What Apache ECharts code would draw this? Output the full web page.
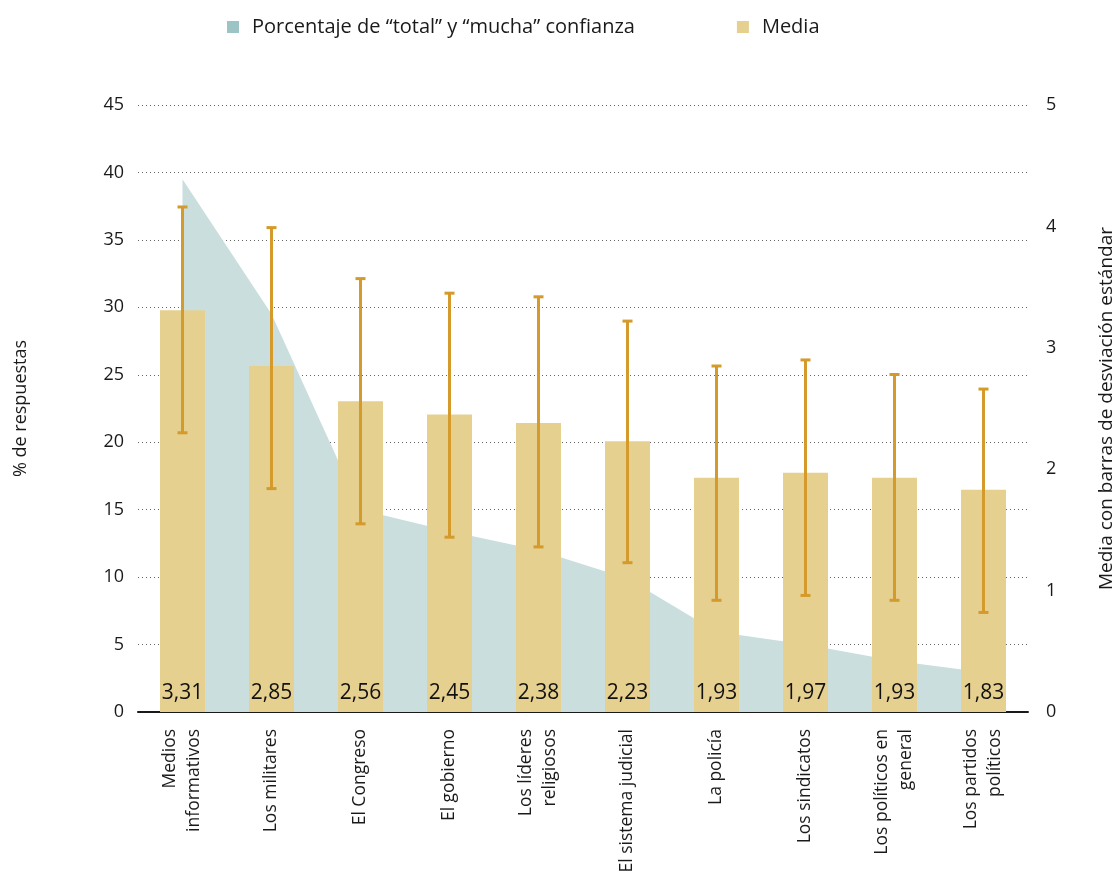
<!DOCTYPE html>
<html>
<head>
<meta charset="utf-8">
<script src="https://cdn.jsdelivr.net/npm/echarts@6/dist/echarts.min.js"></script>
<style>
    html, body { margin: 0; padding: 0; background: #fff; }
    #chart { width: 1116px; height: 876px; }
</style>
</head>
<body>
<div id="chart"></div>
<script>
// categorías (eje X)
const categories = [
    'Medios\ninformativos', 'Los militares', 'El Congreso', 'El gobierno',
    'Los líderes\nreligiosos', 'El sistema judicial', 'La policía',
    'Los sindicatos', 'Los políticos en\ngeneral', 'Los partidos\npolíticos'
]
// % de "total" y "mucha" confianza (eje izquierdo)
const pctConfianza = [39.5, 29.5, 15.0, 13.4, 12.0, 9.9, 5.95, 5.0, 3.8, 2.95]
// media (eje derecho)
const media = [3.31, 2.85, 2.56, 2.45, 2.38, 2.23, 1.93, 1.97, 1.93, 1.83]
// barras de desviación estándar: extremos
const desvBajo = [2.30, 1.84, 1.55, 1.44, 1.36, 1.23, 0.92, 0.96, 0.92, 0.82]
const desvAlto = [4.16, 3.99, 3.57, 3.45, 3.42, 3.22, 2.85, 2.90, 2.78, 2.66]

const leftTicks = { min: 0, max: 45, interval: 5 }
const rightTicks = { min: 0, max: 5, interval: 1 }

const font = 'Open Sans'
const chart = echarts.init(document.getElementById('chart'))

const option = {
    backgroundColor: '#fff',
    animation: false,
    textStyle: { fontFamily: font },
    legend: {
        top: 12,
        left: 222,
        itemGap: 102,
        itemWidth: 12,
        itemHeight: 12,
        icon: 'rect',
        textStyle: { fontFamily: font, fontSize: 20, color: '#1a1a1a', padding: [0, 0, 0, 8] },
        data: [
            { name: 'Porcentaje de “total” y “mucha” confianza', itemStyle: { color: '#9dc4c4' } },
            { name: 'Media', itemStyle: { color: '#e5d090' } }
        ]
    },
    grid: { left: 138, right: 88, top: 105, bottom: 164, outerBoundsMode: 'none' },
    xAxis: {
        type: 'category',
        data: categories,
        boundaryGap: true,
        axisLine: { lineStyle: { color: '#1a1a1a', width: 2 } },
        axisTick: { show: false },
        axisLabel: {
            rotate: 90,
            margin: 17,
            fontFamily: font,
            fontSize: 17.5,
            lineHeight: 24,
            color: '#1a1a1a',
            interval: 0
        }
    },
    yAxis: [
        {
            type: 'value',
            ...leftTicks,
            name: '% de respuestas',
            nameLocation: 'middle',
            nameGap: 108,
            nameRotate: 90,
            nameTextStyle: { fontFamily: font, fontSize: 18, color: '#1a1a1a' },
            axisLine: { show: false },
            axisTick: { show: false },
            axisLabel: { margin: 14, fontSize: 18, color: '#1a1a1a', fontFamily: font },
            splitLine: { lineStyle: { type: [1, 3], color: '#666', width: 1 } }
        },
        {
            type: 'value',
            ...rightTicks,
            name: 'Media con barras de desviación estándar',
            nameLocation: 'middle',
            nameGap: 69,
            nameRotate: 90,
            nameTextStyle: { fontFamily: font, fontSize: 19, color: '#1a1a1a' },
            axisLine: { show: false },
            axisTick: { show: false },
            axisLabel: { margin: 18, fontSize: 18, color: '#1a1a1a', fontFamily: font, align: 'left' },
            splitLine: { show: false }
        }
    ],
    series: [
        {
            name: 'Porcentaje de “total” y “mucha” confianza',
            type: 'line',
            yAxisIndex: 0,
            data: pctConfianza,
            symbol: 'none',
            lineStyle: { width: 0 },
            itemStyle: { color: '#cadede' },
            areaStyle: { color: '#cadede', opacity: 1 },
            z: 1
        },
        {
            name: 'Media',
            type: 'bar',
            yAxisIndex: 1,
            data: media,
            barWidth: 45,
            itemStyle: { color: '#e5d090' },
            label: {
                show: true,
                position: 'insideBottom',
                distance: 8,
                fontFamily: font,
                fontSize: 21,
                color: '#111',
                formatter: p => p.value.toFixed(2).replace('.', ',')
            },
            z: 2
        },
        {
            name: 'Desviación',
            type: 'custom',
            yAxisIndex: 1,
            data: desvBajo.map((lo, i) => [i, lo, desvAlto[i]]),
            encode: { x: 0, y: [1, 2] },
            renderItem: (params, api) => {
                const lo = api.coord([api.value(0), api.value(1)])
                const hi = api.coord([api.value(0), api.value(2)])
                const half = 5
                const style = { stroke: '#d49a2b', lineWidth: 3 }
                return {
                    type: 'group',
                    children: [
                        { type: 'line', shape: { x1: hi[0], y1: hi[1], x2: lo[0], y2: lo[1] }, style },
                        { type: 'line', shape: { x1: hi[0] - half, y1: hi[1], x2: hi[0] + half, y2: hi[1] }, style },
                        { type: 'line', shape: { x1: lo[0] - half, y1: lo[1], x2: lo[0] + half, y2: lo[1] }, style }
                    ]
                }
            },
            z: 3
        }
    ]
}

chart.setOption(option)
</script>
</body>
</html>
